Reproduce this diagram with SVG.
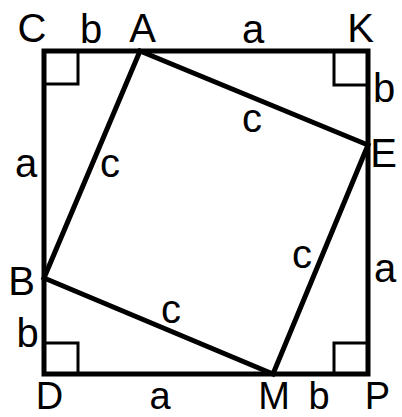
<svg xmlns="http://www.w3.org/2000/svg" width="402" height="417" viewBox="0 0 402 417">
<style>
.t{font-family:"Liberation Sans",Arial,sans-serif;font-size:40px;fill:#000;text-anchor:middle}
.bot{font-size:38px}
.thick{fill:none;stroke:#000;stroke-width:5;stroke-linejoin:miter}
.thin{fill:none;stroke:#000;stroke-width:3}
</style>
<rect width="402" height="417" fill="#fff"/>
<g id="outer-square">
<rect class="thick" x="44" y="51" width="324" height="323"/>
</g>
<g id="inner-square">
<polygon class="thick" points="140,51 368,145 273,374 44,278"/>
</g>
<g id="right-angles">
<polyline class="thin" points="44,84 78,84 78,51"/>
<polyline class="thin" points="334,51 334,85 368,85"/>
<polyline class="thin" points="44,343 78,343 78,374"/>
<polyline class="thin" points="334,374 334,343 368,343"/>
</g>
<g id="vertex-labels">
<text class="t" x="32" y="42">C</text>
<text class="t" x="142.5" y="42">A</text>
<text class="t" x="360.5" y="42">K</text>
<text class="t" x="383.5" y="167">E</text>
<text class="t" x="21.5" y="295">B</text>
<text class="t bot" x="49.5" y="408.5">D</text>
<text class="t bot" x="274" y="408.5">M</text>
<text class="t bot" x="377.5" y="408.5">P</text>
</g>
<g id="side-labels">
<text class="t" x="91" y="43">b</text>
<text class="t" x="253" y="43">a</text>
<text class="t" x="384" y="102">b</text>
<text class="t" x="252" y="132">c</text>
<text class="t" x="26" y="177">a</text>
<text class="t" x="110" y="177">c</text>
<text class="t" x="27.5" y="347">b</text>
<text class="t" x="171" y="323">c</text>
<text class="t bot" x="160" y="408.5">a</text>
<text class="t" x="302" y="268">c</text>
<text class="t" x="385" y="282">a</text>
<text class="t bot" x="319" y="408.5">b</text>
</g>
</svg>
